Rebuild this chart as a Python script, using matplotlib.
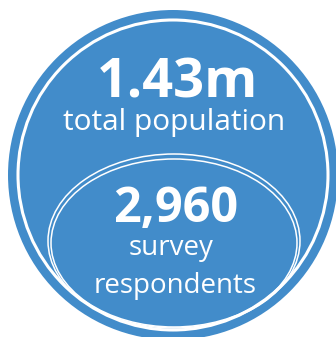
import matplotlib
matplotlib.use('Agg')
import matplotlib.pyplot as plt
from matplotlib.patches import Circle, Ellipse

# Figures shown in the graphic
headline_values = ['1.43m', '2,960']
headline_labels = ['total population', 'survey\nrespondents']

BLUE = '#428cca'
W, H = 336, 337

fig = plt.figure(figsize=(W / 100, H / 100), dpi=100)
ax = fig.add_axes([0, 0, 1, 1])
ax.set_xlim(0, W)
ax.set_ylim(H, 0)
ax.set_aspect('equal')
ax.axis('off')

# Outer disc and white ring
cx, cy = 173, 175
ax.add_patch(Circle((cx, cy), 165, facecolor=BLUE, edgecolor='none'))
ax.add_patch(Circle((cx, cy), 155, facecolor='none', edgecolor='white', lw=2.2))

# Inner double-lined ellipse
ax.add_patch(Ellipse((cx + 1, 241), 252, 174, facecolor='none', edgecolor='white', lw=1.1))
ax.add_patch(Ellipse((cx + 1, 243), 246, 168, facecolor='none', edgecolor='white', lw=1.1))

font = 'Open Sans'

# Top block: total population
ax.text(177, 97, headline_values[0], color='white', fontsize=39, fontweight='bold',
        family=font, ha='center', va='baseline')
ax.text(174, 130, headline_labels[0], color='white', fontsize=21.5,
        family=font, ha='center', va='baseline')

# Inner block: survey respondents
ax.text(176, 222, headline_values[1], color='white', fontsize=35, fontweight='bold',
        family=font, ha='center', va='baseline')
lines = headline_labels[1].split('\n')
ax.text(171, 255, lines[0], color='white', fontsize=20,
        family=font, ha='center', va='baseline')
ax.text(175, 293, lines[1], color='white', fontsize=20,
        family=font, ha='center', va='baseline')

fig.savefig('out.png', dpi=100, facecolor='white')
